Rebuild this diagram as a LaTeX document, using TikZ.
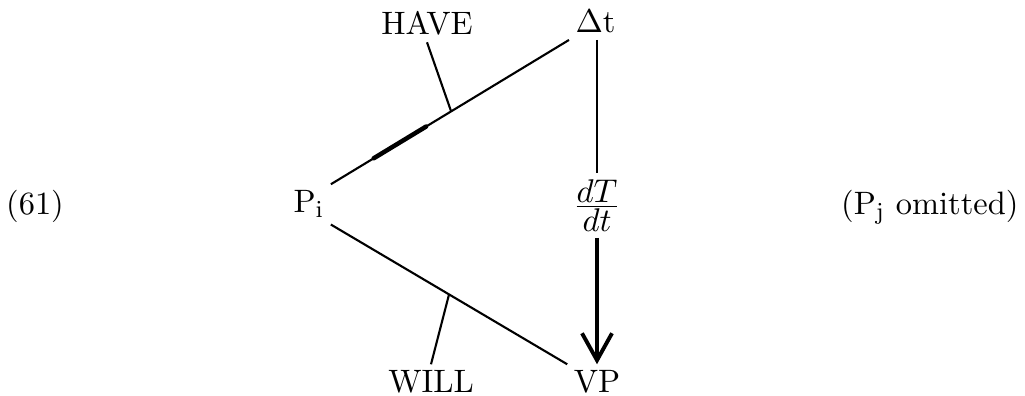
\documentclass[tikz,border=0pt]{standalone}
\usetikzlibrary{arrows.meta}
\begin{document}
\begin{tikzpicture}[x=0.3333pt,y=-0.3333pt,
  lbl/.style={inner sep=2pt, font=\fontsize{10.8pt}{13pt}\selectfont},
  conn/.style={line width=0.7pt},
  bigarrow/.style={line width=1.3pt, -{Straight Barb[length=9pt,width=10pt]}}]
\useasboundingbox (0,0) rectangle (1025,396);
% labels
\node[lbl, anchor=base] (num) at (35,215) {(61)};
\node[lbl, anchor=base west] (Pi) at (287,213) {P$_{\mathrm{i}}$};
\node[lbl, anchor=base] (HAVE) at (427,35) {HAVE};
\node[lbl, anchor=base west] (Dt) at (569,33) {$\Delta$t};
\node[lbl, anchor=base] (F) at (597,215) {$\frac{\textstyle dT}{\textstyle dt}$};
\node[lbl, anchor=base] (WILL) at (431,393) {WILL};
\node[lbl, anchor=base] (VP) at (597,393) {VP};
\node[lbl, anchor=base east] (omit) at (1025,215) {(P$_{\mathrm{j}}$ omitted)};
% connectors
\draw[conn] (Pi.north east) -- coordinate[pos=0.18] (t1) coordinate[pos=0.40] (t2) coordinate[pos=0.505] (h) (Dt.south west);
\draw[line width=1.5pt, line cap=round] (t1) -- (t2);
\draw[conn] (HAVE.south) -- (h);
\draw[conn] (Pi.south east) -- coordinate[pos=0.5] (w) (VP.north west);
\draw[conn] (WILL.north) -- (w);
\draw[conn] (Dt.south -| F.north) -- (F.north);
\draw[bigarrow] (F.south) -- (VP.north);
\end{tikzpicture}
\end{document}
